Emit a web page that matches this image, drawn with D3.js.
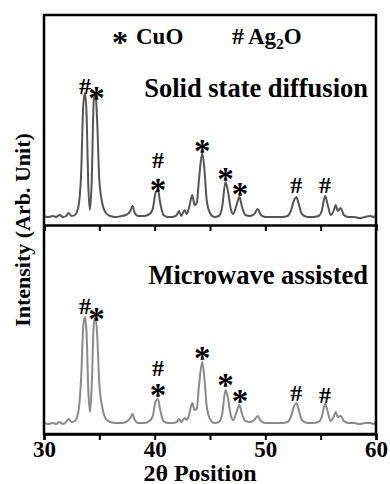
<!DOCTYPE html>
<html>
<head>
<meta charset="utf-8">
<script src="https://cdn.jsdelivr.net/npm/d3@7"></script>
<style>
body { margin: 0; background: #fff; }
svg { display: block; }
text { font-family: "Liberation Serif", "Times New Roman", serif; font-weight: bold; fill: #000; }
</style>
</head>
<body>
<svg id="chart" width="390" height="484"></svg>
<script>
// 2theta positions shared by both patterns
const angles = [30.0, 30.4, 30.8, 31.1, 31.4, 31.7, 32.0, 32.2, 32.5, 32.8, 33.1, 33.35, 33.55, 33.7, 33.85, 34.0, 34.15, 34.3, 34.5, 34.65, 34.8, 35.0, 35.3, 35.6, 36.0, 36.5, 37.0, 37.4, 37.8, 38.0, 38.2, 38.5, 39.0, 39.4, 39.8, 40.1, 40.3, 40.5, 40.8, 41.2, 41.6, 42.0, 42.2, 42.4, 42.7, 42.9, 43.1, 43.4, 43.6, 43.8, 44.0, 44.3, 44.5, 44.7, 45.0, 45.4, 45.8, 46.1, 46.4, 46.6, 46.9, 47.1, 47.4, 47.65, 47.9, 48.2, 48.6, 49.0, 49.3, 49.6, 50.0, 50.5, 51.0, 51.5, 52.0, 52.3, 52.6, 52.8, 53.0, 53.3, 53.8, 54.3, 54.8, 55.1, 55.4, 55.6, 55.9, 56.2, 56.35, 56.55, 56.8, 57.1, 57.5, 58.0, 58.5, 59.0, 59.5, 59.8, 60.0];

const solidState = [9, 8, 9, 8, 10, 8, 9, 12, 9, 10, 18, 50, 120, 132, 110, 40, 15, 40, 125, 132, 105, 45, 20, 12, 9, 8, 9, 10, 14, 19, 12, 9, 9, 10, 15, 33, 35, 22, 10, 8, 8, 10, 14, 9, 15, 11, 17, 30, 20, 22, 45, 72, 55, 25, 12, 8, 9, 18, 43, 35, 15, 11, 20, 28, 18, 10, 9, 11, 16, 10, 8, 8, 8, 8, 9, 14, 25, 28, 22, 11, 8, 8, 9, 14, 29, 22, 10, 15, 20, 14, 17, 10, 8, 8, 7, 8, 9, 8, 10];

const microwave = [11, 10, 11, 10, 12, 10, 12, 15, 12, 13, 22, 55, 108, 117, 100, 45, 22, 45, 110, 117, 100, 50, 25, 15, 12, 11, 11, 12, 16, 20, 14, 11, 11, 12, 17, 33, 35, 24, 13, 11, 11, 12, 15, 12, 16, 14, 19, 31, 24, 25, 48, 72, 55, 28, 15, 11, 12, 20, 44, 37, 18, 14, 22, 29, 20, 13, 12, 14, 18, 13, 11, 11, 11, 11, 12, 17, 28, 31, 25, 14, 11, 11, 12, 17, 30, 24, 13, 18, 22, 17, 18, 13, 11, 11, 10, 11, 11, 10, 13];

const xTicks = [30, 35, 40, 45, 50, 55, 60];
const xLabels = [30, 40, 50, 60];

// phase markers: angle, level, symbol
const solidMarks = [
  { angle: 33.7, level: 139, sym: "#" }, { angle: 34.75, level: 133, sym: "*" },
  { angle: 40.3, level: 65, sym: "#" }, { angle: 40.3, level: 41, sym: "*" },
  { angle: 44.3, level: 80, sym: "*" }, { angle: 46.4, level: 52, sym: "*" },
  { angle: 47.7, level: 37, sym: "*" }, { angle: 52.8, level: 40, sym: "#" },
  { angle: 55.4, level: 40, sym: "#" }
];
const microMarks = [
  { angle: 33.7, level: 128, sym: "#" }, { angle: 34.75, level: 121, sym: "*" },
  { angle: 40.3, level: 66, sym: "#" }, { angle: 40.3, level: 45, sym: "*" },
  { angle: 44.3, level: 82, sym: "*" }, { angle: 46.4, level: 55, sym: "*" },
  { angle: 47.7, level: 39, sym: "*" }, { angle: 52.8, level: 41, sym: "#" },
  { angle: 55.4, level: 39, sym: "#" }
];

const svg = d3.select("#chart");
const left = 44, right = 376;
const panels = [
  { top: 15, bottom: 225, values: solidState, marks: solidMarks, color: "#555", title: "Solid state diffusion", titleY: 97, max: 210 },
  { top: 225, bottom: 434, values: microwave, marks: microMarks, color: "#8a8a8a", title: "Microwave assisted", titleY: 284, max: 209 }
];

const x = d3.scaleLinear().domain([30, 60]).range([left, right]);

panels.forEach((p, i) => {
  const y = d3.scaleLinear().domain([0, p.max]).range([p.bottom, p.top]);
  const pts = angles.map((a, k) => [a, p.values[k]]);

  const line = d3.line()
    .x(d => x(d[0]))
    .y(d => y(d[1]))
    .curve(d3.curveMonotoneX);

  svg.append("path")
    .datum(pts)
    .attr("d", line)
    .attr("fill", "none")
    .attr("stroke", p.color)
    .attr("stroke-width", 2);

  // x axis at bottom of each panel
  const axis = d3.axisBottom(x)
    .tickValues(xTicks)
    .tickSize(6)
    .tickFormat(d => (i === 1 && xLabels.includes(d)) ? d : "");
  const g = svg.append("g")
    .attr("transform", `translate(0,${p.bottom})`)
    .call(axis);
  g.select(".domain").attr("stroke", "#000").attr("stroke-width", 2.5);
  g.selectAll(".tick line").attr("stroke", "#000").attr("stroke-width", 2);
  g.selectAll(".tick text")
    .attr("y", 7)
    .style("font-size", "23px")
    .style("font-family", "'Liberation Serif', 'Times New Roman', serif")
    .style("font-weight", "bold");

  svg.append("text")
    .attr("x", 368)
    .attr("y", p.titleY)
    .attr("text-anchor", "end")
    .style("font-size", "26.5px")
    .text(p.title);

  p.marks.forEach(m => {
    const isStar = m.sym === "*";
    svg.append("text")
      .attr("x", x(m.angle))
      .attr("y", y(m.level) + (isStar ? 17 : 8))
      .attr("text-anchor", "middle")
      .style("font-size", isStar ? "33px" : "24px")
      .text(m.sym);
  });
});

// frame
svg.append("rect")
  .attr("x", left).attr("y", 15)
  .attr("width", right - left).attr("height", 434 - 15)
  .attr("fill", "none").attr("stroke", "#000").attr("stroke-width", 2.5);

// legend
const leg = svg.append("text").attr("y", 44).style("font-size", "23px");
leg.append("tspan").attr("x", 112).attr("dy", 9).style("font-size", "32px").text("*");
leg.append("tspan").attr("x", 136).attr("dy", -9).text("CuO");
const leg2 = svg.append("text").attr("y", 44).style("font-size", "23px");
leg2.append("tspan").attr("x", 232).style("font-size", "24px").text("#");
leg2.append("tspan").attr("x", 248).text("Ag");
leg2.append("tspan").attr("dy", 5).style("font-size", "15px").text("2");
leg2.append("tspan").attr("dy", -5).text("O");

// axis titles
svg.append("text")
  .attr("transform", "translate(30,230) rotate(-90)")
  .attr("text-anchor", "middle")
  .style("font-size", "22px")
  .text("Intensity (Arb. Unit)");

svg.append("text")
  .attr("x", 200)
  .attr("y", 481)
  .attr("text-anchor", "middle")
  .style("font-size", "24px")
  .text("2θ Position");
</script>
</body>
</html>
